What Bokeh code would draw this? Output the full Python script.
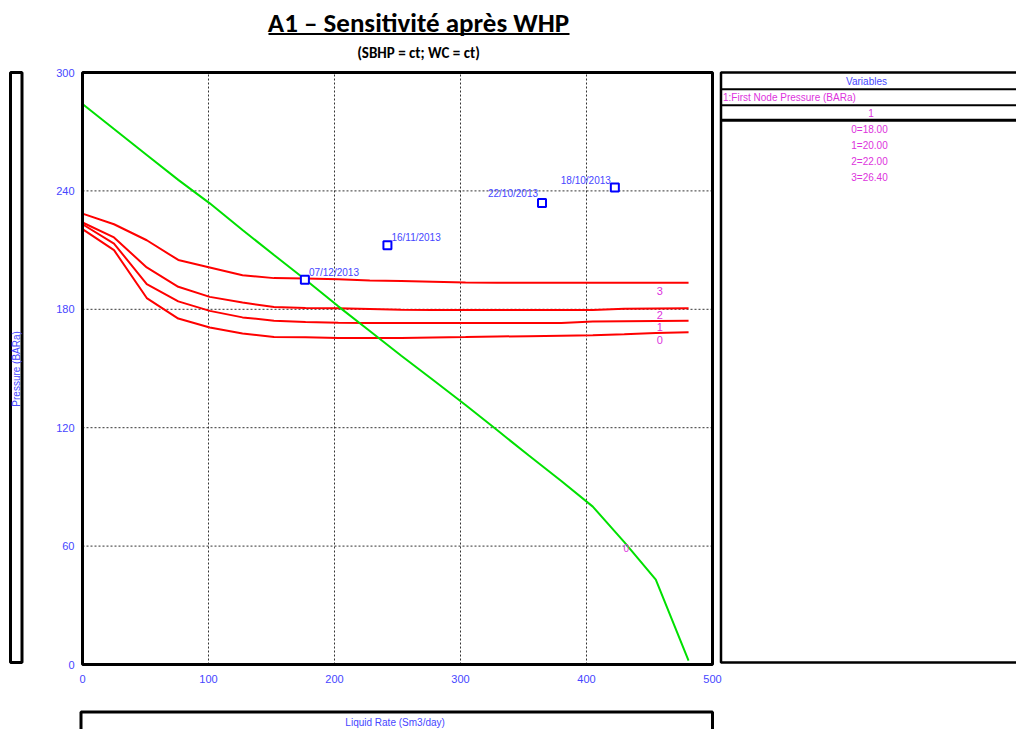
from bokeh.plotting import figure
from bokeh.models import Label, BoxAnnotation, Range1d, FixedTicker
from bokeh.embed import file_html
from bokeh.resources import INLINE
from bokeh.core.properties import value

# ---------------- data ----------------
rate = [0, 25, 51, 76, 101, 127, 152, 177, 203, 228, 253, 278, 304, 329, 354, 380, 405, 430, 455, 481]

ipr_0 = [220.6, 210.0, 185.7, 175.3, 170.8, 167.7, 166.0, 165.8, 165.4, 165.4, 165.5, 165.7, 165.9, 166.2, 166.4, 166.6, 166.8, 167.3, 168.0, 168.4]
ipr_1 = [223.1, 213.3, 192.8, 184.0, 179.2, 175.9, 174.2, 173.6, 173.2, 173.1, 173.1, 173.1, 173.1, 173.1, 173.1, 173.1, 173.8, 174.0, 174.1, 174.2]
ipr_2 = [224.0, 216.4, 201.2, 191.4, 186.3, 183.4, 181.2, 180.7, 180.5, 180.2, 179.8, 179.7, 179.7, 179.7, 179.7, 179.7, 179.7, 180.3, 180.4, 180.5]
ipr_3 = [228.5, 223.1, 215.0, 205.0, 201.2, 197.3, 195.8, 195.6, 195.2, 194.6, 194.3, 194.0, 193.6, 193.5, 193.5, 193.5, 193.5, 193.5, 193.5, 193.4]

vlp = [284.0, 271.4, 258.2, 245.6, 233.7, 220.2, 207.5, 195.0, 181.5, 169.0, 156.5, 144.3, 131.5, 118.8, 106.0, 93.0, 80.0, 62.0, 43.0, 2.0]

curve_ids = ["0", "1", "2", "3"]

test_rate = [176.5, 242.0, 364.7, 422.5]
test_pres = [195.0, 212.4, 233.9, 241.7]
test_dates = ["07/12/2013", "16/11/2013", "22/10/2013", "18/10/2013"]

mark_rate = [431.5]
mark_pres = [59.0]
mark_text = ["0"]

legend_header = "Variables"
legend_variable = "1:First Node Pressure (BARa)"
legend_index = "1"
legend_values = ["0=18.00", "1=20.00", "2=22.00", "3=26.40"]

x_min, x_max = 0, 500
y_min, y_max = 0, 300
x_ticks = [0, 100, 200, 300, 400, 500]
y_ticks = [0, 60, 120, 180, 240, 300]

title_text = "A1 \u2013 Sensitivit\u00e9 apr\u00e8s WHP"
subtitle_text = "(SBHP = ct; WC = ct)"
x_title = "Liquid Rate  (Sm3/day)"
y_title = "Pressure  (BARa)"

# ---------------- layout constants (pixels) ----------------
W, H = 1016, 729
FL, FR, FT, FB = 82, 712, 72, 664

def dx(px):
    return x_min + (px - FL) * (x_max - x_min) / (FR - FL)

def dy(py):
    return y_min + (FB - py) * (y_max - y_min) / (FB - FT)

FONT = "'Liberation Sans', Arial, sans-serif"
TITLE_FONT = "Carlito, Calibri, Lato, sans-serif"
BLUE_TXT = "#4646ff"
MAG = "#dd33dd"

p = figure(width=W, height=H, x_range=Range1d(dx(0), dx(W)), y_range=Range1d(dy(H), dy(0)),
           min_border=0, output_backend="svg", toolbar_location=None, title=None)
p.background_fill_color = "white"
p.border_fill_color = "white"
p.outline_line_color = None
p.xgrid.visible = False
p.ygrid.visible = False

p.xaxis.ticker = FixedTicker(ticks=x_ticks)
p.yaxis.ticker = FixedTicker(ticks=y_ticks)
p.xaxis.fixed_location = y_min
p.yaxis.fixed_location = x_min
p.xaxis.bounds = (x_min, x_max)
p.yaxis.bounds = (y_min, y_max)
for ax in (p.xaxis[0], p.yaxis[0]):
    ax.axis_line_color = None
    ax.major_tick_line_color = None
    ax.minor_tick_line_color = None
    ax.major_label_text_color = BLUE_TXT
    ax.major_label_text_font = FONT
    ax.major_label_text_font_size = "11px"
p.xaxis.major_label_standoff = 4
p.yaxis.major_label_standoff = 2

# dotted grid lines at interior ticks
gx = x_ticks[1:-1]
gy = y_ticks[1:-1]
p.segment(x0=gx, y0=[y_min] * len(gx), x1=gx, y1=[y_max] * len(gx),
          line_color="#333333", line_dash="2 2", line_width=1)
p.segment(x0=[x_min] * len(gy), y0=gy, x1=[x_max] * len(gy), y1=gy,
          line_color="#333333", line_dash="2 2", line_width=1)

# IPR curves
for vals in (ipr_0, ipr_1, ipr_2, ipr_3):
    p.line(rate, vals, line_color="#ff0000", line_width=2)

# VLP curve
p.line(rate, vlp, line_color="#00e000", line_width=2)

# curve labels (below each curve near its end)
p.text(x=[rate[18]] * 4, y=[ipr_0[18], ipr_1[18], ipr_2[18], ipr_3[18]], text=curve_ids,
       x_offset=4, y_offset=[7, 6, 6, 8], text_color=MAG, text_font=value(FONT),
       text_font_size="11px", text_align="center", text_baseline="middle")

p.text(x=mark_rate, y=mark_pres, text=mark_text, text_color=MAG, text_font=value(FONT),
       text_font_size="10px", text_align="center", text_baseline="middle")

# test points
p.scatter(test_rate, test_pres, marker="square", size=8, line_color="#0000ff",
          line_width=2, fill_color="white")
p.text(x=test_rate[:2], y=test_pres[:2], text=test_dates[:2], x_offset=4, y_offset=[-7, -8],
       text_color=BLUE_TXT, text_font=value(FONT), text_font_size="10px",
       text_align="left", text_baseline="middle")
p.text(x=test_rate[2:], y=test_pres[2:], text=test_dates[2:], x_offset=-4, y_offset=[-9, -7],
       text_color=BLUE_TXT, text_font=value(FONT), text_font_size="10px",
       text_align="right", text_baseline="middle")

def frame_box(**kw):
    return BoxAnnotation(fill_alpha=0, line_color="black", line_alpha=1, **kw)

def bar_box(**kw):
    return BoxAnnotation(fill_color="black", fill_alpha=1, line_color=None, **kw)

# plot frame
p.add_layout(frame_box(left=x_min, right=x_max, bottom=y_min, top=y_max, line_width=3))

# ---------------- decorations ----------------
p.add_layout(Label(x=dx(418), y=dy(22), text=title_text, text_font=TITLE_FONT,
                   text_font_size="27px", text_font_style="bold", text_color="black",
                   text_align="center", text_baseline="middle"))
p.add_layout(bar_box(left=dx(268), right=dx(569), top=dy(32.5), bottom=dy(34.5)))
p.add_layout(Label(x=dx(418), y=dy(52), text=subtitle_text, text_font=TITLE_FONT,
                   text_font_size="15px", text_font_style="bold", text_color="black",
                   text_align="center", text_baseline="middle"))

# left axis-title box
p.add_layout(frame_box(left=dx(10), right=dx(21.5), top=dy(72), bottom=dy(662), line_width=3))
p.add_layout(Label(x=dx(16.3), y=dy(367), text=y_title, angle=1.5708, text_font=FONT,
                   text_font_size="10px", text_color=BLUE_TXT, text_align="center",
                   text_baseline="middle"))

# bottom axis-title box
p.add_layout(frame_box(left=dx(80.5), right=dx(712), top=dy(711.5), bottom=dy(745), line_width=3))
p.add_layout(Label(x=dx(396), y=dy(722), text=x_title, text_font=FONT,
                   text_font_size="10px", text_color=BLUE_TXT, text_align="center",
                   text_baseline="middle"))

# legend panel
p.add_layout(frame_box(left=dx(720.5), right=dx(1030), top=dy(72), bottom=dy(662), line_width=2.5))
for yy, th in ((88.7, 2), (104.7, 2), (119.7, 3)):
    p.add_layout(bar_box(left=dx(720.5), right=dx(1030), top=dy(yy - th / 2), bottom=dy(yy + th / 2)))
p.add_layout(Label(x=dx(866), y=dy(80.5), text=legend_header, text_font=FONT,
                   text_font_size="10px", text_color=BLUE_TXT, text_align="center",
                   text_baseline="middle"))
p.add_layout(Label(x=dx(722.5), y=dy(96.8), text=legend_variable, text_font=FONT,
                   text_font_size="10px", text_color=MAG, text_align="left",
                   text_baseline="middle"))
p.add_layout(Label(x=dx(870.5), y=dy(112), text=legend_index, text_font=FONT,
                   text_font_size="10px", text_color=MAG, text_align="center",
                   text_baseline="middle"))
for i, t in enumerate(legend_values):
    p.add_layout(Label(x=dx(869), y=dy(129 + 16 * i), text=t, text_font=FONT,
                       text_font_size="10px", text_color=MAG, text_align="center",
                       text_baseline="middle"))

open("out.html", "w").write(file_html(p, INLINE))
